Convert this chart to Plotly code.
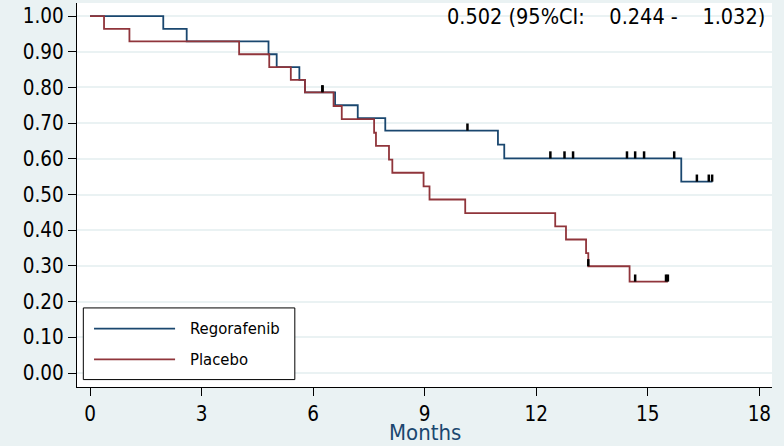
import numpy as np
import plotly.graph_objects as go

# Kaplan-Meier step data (months, survival)
reg_times = [0, 1.97, 2.60, 4.80, 5.02, 5.63, 5.78, 6.59, 7.20, 7.94, 10.97, 11.14, 15.90, 16.74]
reg_surv = [1.0, 0.964, 0.929, 0.893, 0.857, 0.821, 0.786, 0.750, 0.714, 0.679, 0.640, 0.601, 0.536, 0.536]
reg_cens = [6.25, 10.15, 12.38, 12.76, 12.99, 14.44, 14.66, 14.90, 15.71, 16.32, 16.64, 16.73]

pla_times = [0, 0.377, 1.06, 4.01, 4.82, 5.40, 5.78, 6.55, 6.77, 7.64, 7.69, 8.04, 8.13, 8.97, 9.13,
             10.09, 12.51, 12.80, 13.34, 13.40, 14.51, 15.54]
pla_surv = [1.0, 0.964, 0.929, 0.893, 0.857, 0.821, 0.786, 0.748, 0.711, 0.673, 0.636, 0.598, 0.561,
            0.523, 0.486, 0.448, 0.411, 0.374, 0.336, 0.299, 0.256, 0.256]
pla_cens = [6.25, 13.40, 14.66, 15.49, 15.54]

x_ticks = [0, 3, 6, 9, 12, 15, 18]
y_ticks = [round(0.1 * i, 1) for i in range(11)]
y_tick_labels = [f"{v:.2f}" for v in y_ticks]
annotation_text = "0.502 (95%CI:\u00a0\u00a0\u00a0\u00a00.244 -\u00a0\u00a0\u00a0\u00a01.032)"
series_names = ["Regorafenib", "Placebo"]
x_title = "Months"

BLUE = "#1a476f"
RED = "#90353b"
BG = "#EAF2F3"
FONT = "DejaVu Sans Condensed, DejaVu Sans, sans-serif"


def surv_at(times, surv, t):
    idx = np.searchsorted(np.array(times), np.array(t), side="right") - 1
    return list(np.array(surv)[idx])


fig = go.Figure()
for times, surv, cens, color, name in [
    (reg_times, reg_surv, reg_cens, BLUE, series_names[0]),
    (pla_times, pla_surv, pla_cens, RED, series_names[1]),
]:
    fig.add_trace(go.Scatter(x=times, y=surv, mode="lines", line=dict(color=color, width=1.8, shape="hv"),
                             name=name, showlegend=False, hoverinfo="skip"))
    fig.add_trace(go.Scatter(x=cens, y=surv_at(times, surv, cens), mode="markers",
                             marker=dict(size=0.1, color="black", opacity=0),
                             error_y=dict(type="data", symmetric=False, array=[0.02] * len(cens),
                                          arrayminus=[0] * len(cens), width=0, thickness=2.5, color="black"),
                             showlegend=False, hoverinfo="skip"))

# custom legend
fig.add_shape(type="rect", xref="paper", yref="paper", x0=0.0091, x1=0.3134, y0=0.0193, y1=0.2059,
              line=dict(color="black", width=1), fillcolor="white", layer="above")
for yy, color, name in [(0.1522, BLUE, series_names[0]), (0.0722, RED, series_names[1])]:
    fig.add_shape(type="line", xref="paper", yref="paper", x0=0.0245, x1=0.1411, y0=yy, y1=yy,
                  line=dict(color=color, width=1.8), layer="above")
    fig.add_annotation(xref="paper", yref="paper", x=0.1602, y=yy, text=name, showarrow=False,
                       xanchor="left", yanchor="middle", font=dict(family=FONT, size=16.5, color="black"))

fig.add_annotation(xref="paper", yref="paper", x=0.993, y=0.964, text=annotation_text, showarrow=False,
                   xanchor="right", yanchor="middle", font=dict(family=FONT, size=21.5, color="black"))

# x axis title
fig.add_annotation(xref="paper", yref="paper", x=0.5, y=0, yshift=-45, text=x_title, showarrow=False,
                   xanchor="center", yanchor="middle", font=dict(family=FONT, size=22, color=BLUE))

fig.update_layout(
    width=784, height=446,
    margin=dict(l=77, r=12, t=3, b=59, autoexpand=False),
    paper_bgcolor=BG, plot_bgcolor="white",
    font=dict(family=FONT, size=20.5, color="black"),
    showlegend=False,
    xaxis=dict(range=[-0.35, 18.34], tickvals=x_ticks, ticks="outside", ticklen=8, tickwidth=1.2,
               tickcolor="black", showline=True, linecolor="black", linewidth=1.3, showgrid=False,
               zeroline=False, automargin=False, tickfont=dict(size=20.5)),
    yaxis=dict(range=[-0.0392, 1.0365], tickvals=y_ticks, ticktext=y_tick_labels, ticks="outside",
               ticklen=8, tickwidth=1.2, tickcolor="black", showline=True, linecolor="black", linewidth=1.3,
               showgrid=True, gridcolor=BG, gridwidth=2, zeroline=False, automargin=False,
               tickfont=dict(size=20.5)),
)

fig.write_html("out.html", config={"displayModeBar": False},
               post_script="document.body.style.margin='0';document.body.style.overflow='hidden';")
